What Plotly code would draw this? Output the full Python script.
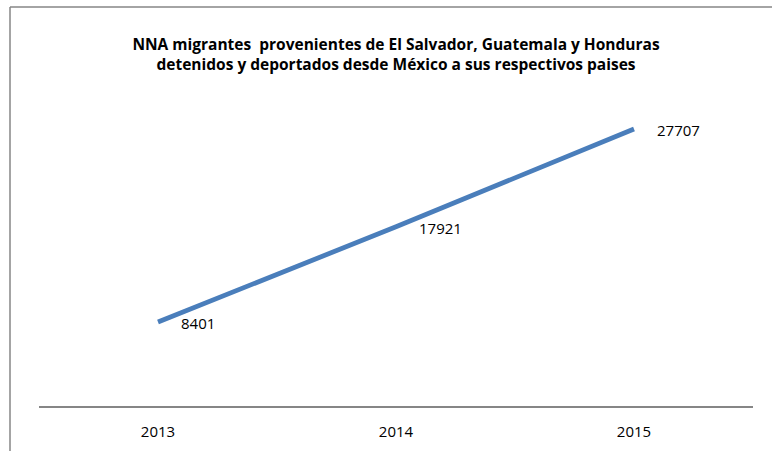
import plotly.graph_objects as go

years = ["2013", "2014", "2015"]
values = [8401, 17921, 27707]
title_lines = ["NNA migrantes  provenientes de El Salvador, Guatemala y Honduras",
               "detenidos y deportados desde México a sus respectivos paises"]

W, H = 772, 451
L, R, T, B = 39, 19, 106, 45
pw, ph = W - L - R, H - T - B

fig = go.Figure()
fig.add_trace(go.Scatter(
    x=years, y=values, mode="lines",
    line=dict(color="#4a7ebb", width=4.8),
    hoverinfo="skip", showlegend=False,
))

for i, v in enumerate(values):
    fig.add_annotation(x=i, y=v, xref="x", yref="y", text=str(v), showarrow=False,
                       xanchor="left", yanchor="middle", xshift=21, yshift=-1,
                       font=dict(family="Open Sans", size=15, color="#000000"))

def fx(px):
    return (px - L) / pw

def fy(py):
    return (H - B - py) / ph

frame = dict(color="#868686", width=1.5)
fig.add_shape(type="line", xref="paper", yref="paper",
              x0=fx(10), x1=fx(10), y0=fy(7), y1=fy(470), line=frame)
fig.add_shape(type="line", xref="paper", yref="paper",
              x0=fx(10), x1=fx(800), y0=fy(7), y1=fy(7), line=frame)

fig.update_layout(
    width=W, height=H,
    margin=dict(l=L, r=R, t=T, b=B, autoexpand=False),
    paper_bgcolor="white", plot_bgcolor="white",
    title=dict(text="<br>".join(title_lines), x=0.5, xref="paper", xanchor="center",
               y=1 - 50 / H, yref="container", yanchor="middle",
               font=dict(family="Open Sans", size=15.5, color="#000000", weight="bold")),
    xaxis=dict(type="category", range=[-0.5, 2.5], showgrid=False, zeroline=False,
               showline=True, linecolor="#868686", linewidth=1.5, ticks="",
               tickfont=dict(family="Open Sans", size=15, color="#000000"),
               ticklabelstandoff=11, automargin=False),
    yaxis=dict(range=[0, 30000], visible=False, automargin=False),
)

fig.write_html("out.html", config={"displayModeBar": False},
               post_script="document.body.style.margin='0';")
